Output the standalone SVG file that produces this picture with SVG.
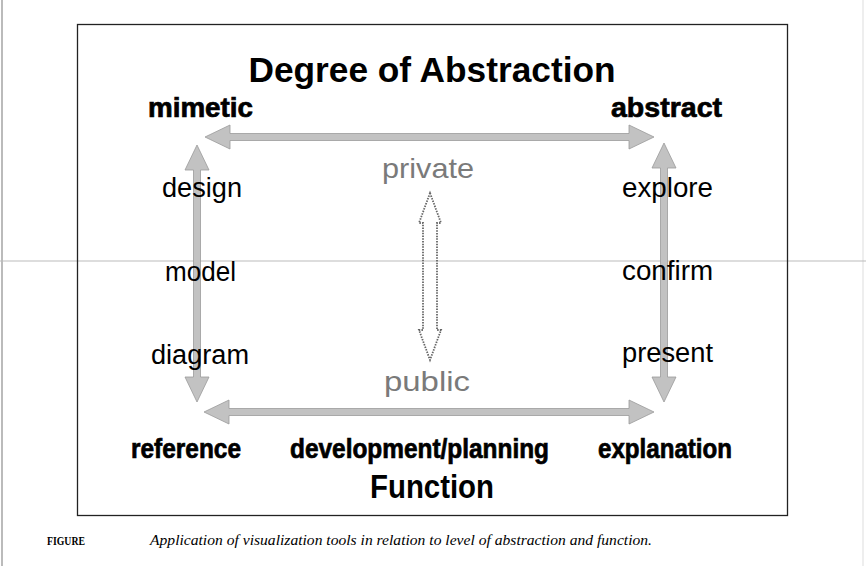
<svg xmlns="http://www.w3.org/2000/svg" width="866" height="566" viewBox="0 0 866 566">
<style>
.hd{font-family:"Liberation Sans",Arial,sans-serif;font-weight:bold;fill:#000}
.hv{stroke:#000;stroke-width:0.7}
.lb{font-family:"Liberation Sans",Arial,sans-serif;fill:#000;font-size:27px}
.gr{font-family:"Liberation Sans",Arial,sans-serif;fill:#7a7a7a;font-size:28px}
.arr{fill:#c2c2c2;stroke:#9a9a9a;stroke-width:0.8}
.dot{fill:none;stroke:#666;stroke-width:1.8;stroke-dasharray:1.5 1.2}
.cap{font-family:"Liberation Serif","Times New Roman",serif;fill:#000}
</style>
<rect width="866" height="566" fill="#fff"/>
<g id="scan">
<line x1="2" y1="0" x2="2" y2="566" stroke="#bbb" stroke-width="2"/>
<line x1="863" y1="0" x2="863" y2="566" stroke="#ddd" stroke-width="1"/>
<line x1="0" y1="261" x2="866" y2="261" stroke="#bbb" stroke-width="1"/>
</g>
<rect id="frame" x="77.5" y="24.5" width="710" height="491" fill="none" stroke="#222" stroke-width="1.3"/>
<g id="connectors">
<polygon class="arr" points="205,137 230,125 230,133.5 629,133.5 629,125 654,137 629,149 629,140.5 230,140.5 230,149"/>
<polygon class="arr" points="204,412 229,400 229,408.5 629,408.5 629,400 654,412 629,424 629,415.5 229,415.5 229,424"/>
<polygon class="arr" points="197,145 209,170 200.5,170 200.5,377 209,377 197,402 185,377 193.5,377 193.5,170 185,170"/>
<polygon class="arr" points="664,143 676,168 667.5,168 667.5,377 676,377 664,402 652,377 660.5,377 660.5,168 652,168"/>
<polygon class="dot" points="430,193 441,223 437,223 437,330 441,330 430,360 419,330 423,330 423,223 419,223"/>
</g>
<g id="title"><text class="hd" x="432" y="82" font-size="35" text-anchor="middle" textLength="367" lengthAdjust="spacingAndGlyphs">Degree of Abstraction</text></g>
<g id="mimetic"><text class="hd hv" x="148" y="117" font-size="27" textLength="105" lengthAdjust="spacingAndGlyphs">mimetic</text></g>
<g id="abstract"><text class="hd hv" x="611" y="117" font-size="28" textLength="111" lengthAdjust="spacingAndGlyphs">abstract</text></g>
<g id="design"><text class="lb" x="162" y="197" textLength="80" lengthAdjust="spacingAndGlyphs">design</text></g>
<g id="model"><text class="lb" x="165" y="281" textLength="71" lengthAdjust="spacingAndGlyphs">model</text></g>
<g id="diagram"><text class="lb" x="151" y="364" textLength="98" lengthAdjust="spacingAndGlyphs">diagram</text></g>
<g id="explore"><text class="lb" x="622" y="197" textLength="91" lengthAdjust="spacingAndGlyphs">explore</text></g>
<g id="confirm"><text class="lb" x="622" y="280" textLength="91" lengthAdjust="spacingAndGlyphs">confirm</text></g>
<g id="present"><text class="lb" x="622" y="362" textLength="91" lengthAdjust="spacingAndGlyphs">present</text></g>
<g id="private"><text class="gr" x="382" y="178" textLength="92" lengthAdjust="spacingAndGlyphs">private</text></g>
<g id="public"><text class="gr" x="384" y="391" textLength="86" lengthAdjust="spacingAndGlyphs">public</text></g>
<g id="reference"><text class="hd hv" x="131" y="458" font-size="27" textLength="110" lengthAdjust="spacingAndGlyphs">reference</text></g>
<g id="development"><text class="hd hv" x="290" y="458" font-size="27" textLength="259" lengthAdjust="spacingAndGlyphs">development/planning</text></g>
<g id="explanation"><text class="hd hv" x="598" y="458" font-size="27" textLength="134" lengthAdjust="spacingAndGlyphs">explanation</text></g>
<g id="function"><text class="hd" x="370" y="498" font-size="34" textLength="124" lengthAdjust="spacingAndGlyphs">Function</text></g>
<g id="caption">
<text class="cap" x="47" y="545" font-size="12" font-weight="bold" textLength="38" lengthAdjust="spacingAndGlyphs">FIGURE</text>
<text class="cap" x="150" y="545" font-size="15" font-style="italic" textLength="502" lengthAdjust="spacingAndGlyphs">Application of visualization tools in relation to level of abstraction and function.</text>
</g>
</svg>
